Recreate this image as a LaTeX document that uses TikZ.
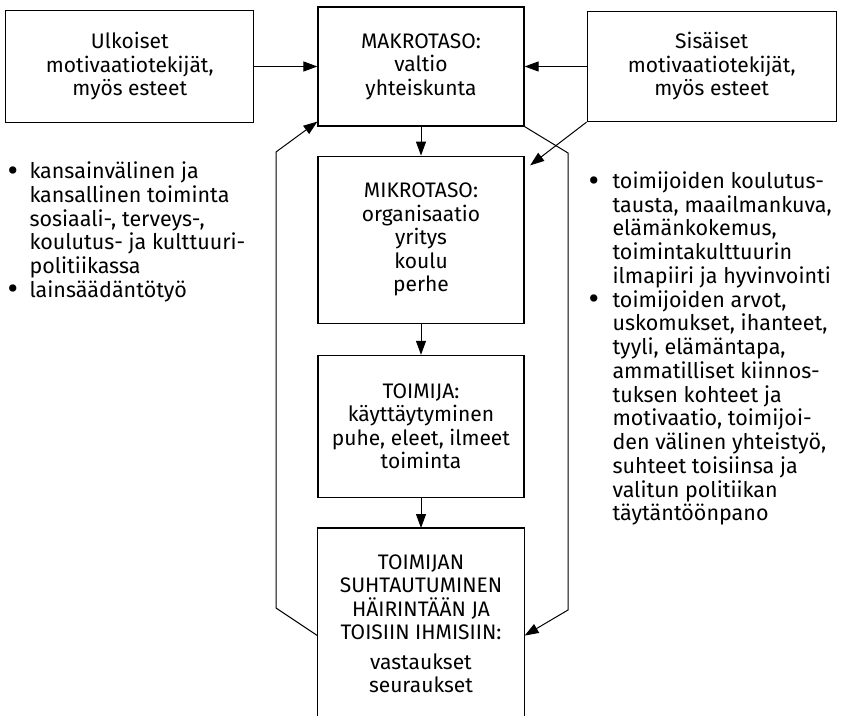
\documentclass[tikz,border=0pt]{standalone}
\usepackage{fontspec}
\setmainfont{Fira Sans}
\usetikzlibrary{positioning,arrows.meta}

\newcommand{\boxfont}{\fontsize{21}{23.5}\selectfont}
\newcommand{\listfont}{\fontsize{21.5}{23.3}\selectfont}
\newcommand{\bul}{\raisebox{-0.12em}{\scalebox{1.5}{\textbullet}}}

\begin{document}
\begin{tikzpicture}[x=1pt, y=1pt, ->, >={Triangle[length=14pt,width=10pt]}, line width=1pt,
  box/.style={draw, line width=1.2pt, align=center, minimum width=206pt, inner sep=0pt, font=\boxfont},
  list/.style={anchor=base west, inner sep=0pt, font=\listfont}]

  \useasboundingbox (0,0) rectangle (842,715);

  % Define nodes
  \node[box, minimum height=119pt] (makro) at (421,648.5) {MAKROTASO:\\ valtio\\ yhteiskunta};
  \node[box, minimum width=248pt, minimum height=112pt, left=63pt of makro] (ulk) {Ulkoiset\\ motivaatiotekijät,\\ myös esteet};
  \node[box, minimum width=249pt, minimum height=110pt, right=62pt of makro] (sis) {Sisäiset\\ motivaatiotekijät,\\ myös esteet};
  \node[box, minimum height=167pt, below=29pt of makro] (mikro) {MIKROTASO:\\ organisaatio\\ yritys\\ koulu\\ perhe};
  \node[box, minimum height=142pt, below=31pt of mikro] (toimija) {TOIMIJA:\\ käyttäytyminen\\ puhe, eleet, ilmeet\\ toiminta};
  \node[box, draw=none, minimum height=190pt, below=30pt of toimija] (vastaus) {TOIMIJAN\\ SUHTAUTUMINEN\\ HÄIRINTÄÄN JA\\ TOISIIN IHMISIIN:\\[6pt] vastaukset\\ seuraukset};
  \draw[-, line width=1.2pt] (vastaus.south west) -- (vastaus.north west) -- (vastaus.north east) -- (vastaus.south east);

  % Bullet lists
  \node[list] (ulklist) at (7,536.5) {\begin{tabular}[t]{@{}p{22pt}@{}l@{}}
    \bul & kansainvälinen ja\\
    & kansallinen toiminta\\
    & sosiaali-, terveys-,\\
    & koulutus- ja kulttuuri-\\
    & politiikassa\\
    \bul & lainsäädäntötyö
  \end{tabular}};
  \node[list] (sislist) at (588,526.5) {\begin{tabular}[t]{@{}p{24pt}@{}l@{}}
    \bul & toimijoiden koulutus-\\
    & tausta, maailmankuva,\\
    & elämänkokemus,\\
    & toimintakulttuurin\\
    & ilmapiiri ja hyvinvointi\\
    \bul & toimijoiden arvot,\\
    & uskomukset, ihanteet,\\
    & tyyli, elämäntapa,\\
    & ammatilliset kiinnos-\\
    & tuksen kohteet ja\\
    & motivaatio, toimijoi-\\
    & den välinen yhteistyö,\\
    & suhteet toisiinsa ja\\
    & valitun politiikan\\
    & täytäntöönpano
  \end{tabular}};

  % Feedback corners
  \coordinate (fbl1) at (276,107);
  \coordinate (fbl2) at (276,563);
  \coordinate (fbr1) at (568,562);
  \coordinate (fbr2) at (568,105);

  % Define edges
  \path
    (ulk) edge (makro)
    (sis) edge (makro)
    (makro) edge (mikro)
    (mikro) edge (toimija)
    (toimija) edge (vastaus);
  \draw[shorten >=7pt] (sis.south west) -- ([yshift=-14pt]mikro.north east);
  \draw ([yshift=-12pt]vastaus.west) -- (fbl1) -- (fbl2) -- ([yshift=5pt]makro.south west);
  \draw (makro.south east) -- (fbr1) -- (fbr2) -- ([yshift=-12pt]vastaus.east);
\end{tikzpicture}
\end{document}
